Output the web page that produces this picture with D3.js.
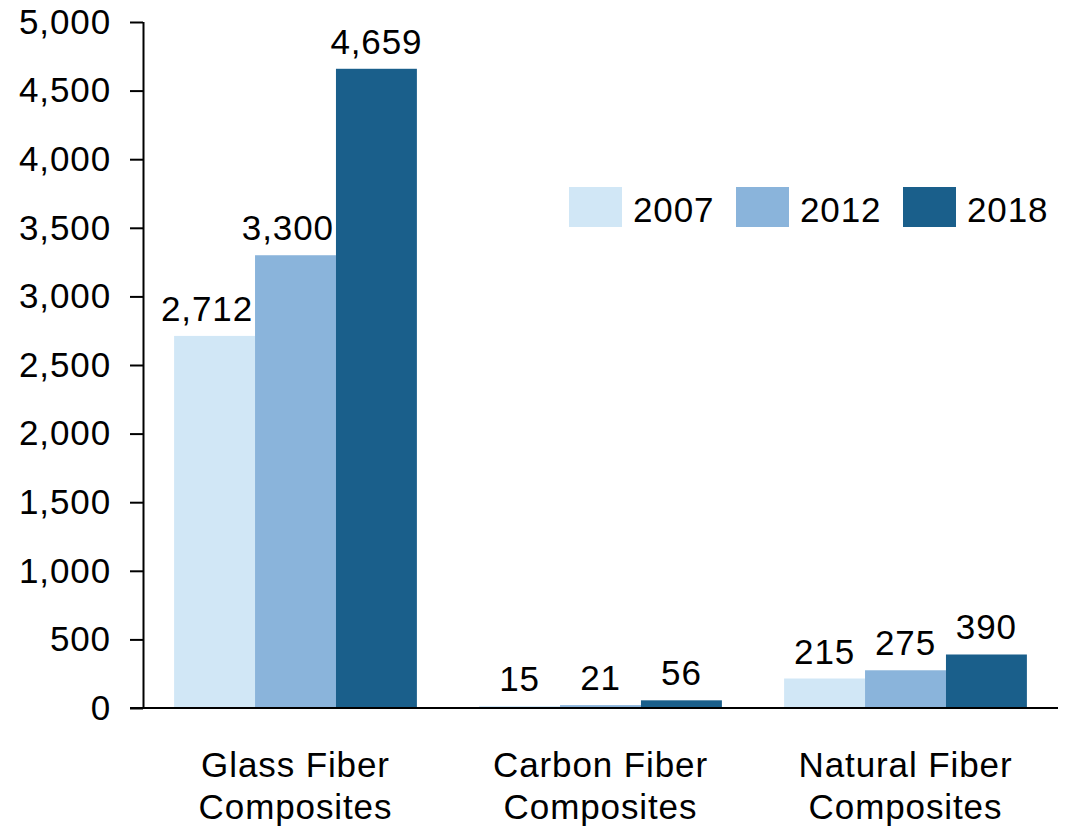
<!DOCTYPE html>
<html>
<head>
<meta charset="utf-8">
<script src="https://cdn.jsdelivr.net/npm/d3@7"></script>
<style>
  html, body { margin: 0; padding: 0; background: #fff; }
  svg { display: block; font-family: "Liberation Sans", Arial, sans-serif; }
  svg text { letter-spacing: 0.9px; }
</style>
</head>
<body>
<svg id="chart" width="1066" height="829"></svg>
<script>
// Composite production by fiber type (thousand tonnes)
const categories = ["Glass Fiber Composites", "Carbon Fiber Composites", "Natural Fiber Composites"];
const categoryLines = [["Glass Fiber", "Composites"], ["Carbon Fiber", "Composites"], ["Natural Fiber", "Composites"]];
const years = ["2007", "2012", "2018"];
const values2007 = [2712, 15, 215];
const values2012 = [3300, 21, 275];
const values2018 = [4659, 56, 390];
const yTicks = [0, 500, 1000, 1500, 2000, 2500, 3000, 3500, 4000, 4500, 5000];
const colors = ["#d1e7f6", "#8ab4db", "#1a5f8b"];

const seriesValues = [values2007, values2012, values2018];
const rows = categories.map((c, i) => ({
  category: c,
  lines: categoryLines[i],
  bars: years.map((y, j) => ({ year: y, value: seriesValues[j][i], idx: j }))
}));

const svg = d3.select("#chart");
const plotLeft = 143, plotRight = 1058, plotTop = 22, plotBottom = 708;
const fontSize = 35;

const x = d3.scaleBand().domain(categories).range([plotLeft, plotRight]).padding(0);
const gap = x.bandwidth() * 0.102;
const xi = d3.scaleBand().domain(years).range([gap, x.bandwidth() - gap]).padding(0);
const y = d3.scaleLinear().domain([0, 5000]).range([plotBottom, plotTop]);
const color = d3.scaleOrdinal().domain(years).range(colors);
const fmt = d3.format(",");

// Bars
const groups = svg.append("g").selectAll("g").data(rows).join("g")
  .attr("transform", d => `translate(${x(d.category)},0)`);

groups.selectAll("rect").data(d => d.bars).join("rect")
  .attr("x", d => xi(d.year))
  .attr("y", d => y(d.value))
  .attr("width", xi.bandwidth())
  .attr("height", d => plotBottom - y(d.value))
  .attr("fill", d => color(d.year));

// Value labels, nudged left when they would run into a taller neighbouring bar
groups.each(function(d) {
  const g = d3.select(this);
  d.bars.forEach((b, j) => {
    const cx = xi(b.year) + xi.bandwidth() / 2;
    const t = g.append("text")
      .attr("x", cx)
      .attr("y", y(b.value) - 15)
      .attr("text-anchor", "middle")
      .attr("font-size", fontSize)
      .attr("fill", "#000")
      .text(fmt(b.value));
    const next = d.bars[j + 1];
    if (next && y(next.value) < y(b.value) - 15) {
      const bb = t.node().getBBox();
      const limit = xi(next.year) - 2;
      if (bb.x + bb.width > limit) t.attr("x", cx - (bb.x + bb.width - limit));
    }
  });
});

// Y axis
const yAxis = svg.append("g")
  .attr("transform", `translate(${plotLeft},0)`)
  .call(d3.axisLeft(y).tickValues(yTicks).tickFormat(fmt).tickSize(13).tickPadding(19));
yAxis.select(".domain").attr("stroke", "#000").attr("stroke-width", 2).attr("d", `M0.5,${plotTop}V${plotBottom}`);
yAxis.selectAll(".tick line").attr("stroke", "#000").attr("stroke-width", 2);
yAxis.selectAll(".tick text").attr("font-size", fontSize).attr("fill", "#000")
  .attr("font-family", "'Liberation Sans', Arial, sans-serif");

// X axis baseline
svg.append("line")
  .attr("x1", plotLeft - 13).attr("x2", plotRight)
  .attr("y1", plotBottom).attr("y2", plotBottom)
  .attr("stroke", "#000").attr("stroke-width", 2);

// Category labels
svg.append("g").selectAll("text").data(rows).join("text")
  .attr("text-anchor", "middle")
  .attr("font-size", fontSize)
  .attr("fill", "#000")
  .each(function(d) {
    const t = d3.select(this);
    const cx = x(d.category) + x.bandwidth() / 2;
    d.lines.forEach((ln, k) => {
      t.append("tspan").attr("x", cx).attr("y", 777 + k * 42).text(ln);
    });
  });

// Legend
const legend = svg.append("g").attr("transform", "translate(569,187)");
const items = legend.selectAll("g").data(years).join("g")
  .attr("transform", (d, i) => `translate(${i * 167},0)`);
items.append("rect").attr("width", 53).attr("height", 40).attr("fill", d => color(d));
items.append("text").attr("x", 64).attr("y", 35)
  .attr("font-size", fontSize).attr("fill", "#000").text(d => d);
</script>
</body>
</html>
